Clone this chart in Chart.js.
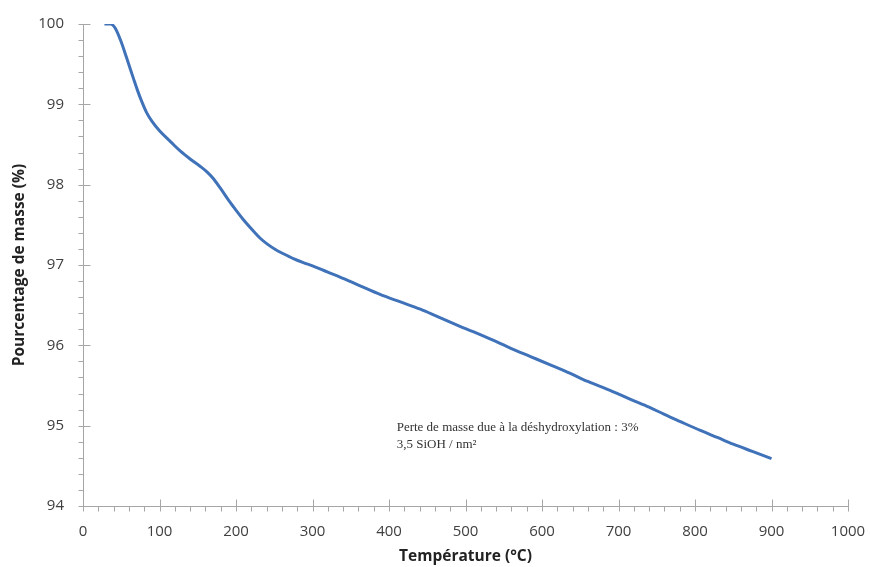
<!DOCTYPE html>
<html>
<head>
<meta charset="utf-8">
<script src="https://cdn.jsdelivr.net/npm/chart.js@4"></script>
<style>
  html, body { margin: 0; padding: 0; background: #fff; }
  #wrap { width: 870px; height: 567px; position: relative; }
</style>
</head>
<body>
<div id="wrap"><canvas id="chartTga"></canvas></div>
<script>
// values
const temperatures = [28, 36, 42, 49, 57, 66, 71, 77, 83, 90, 100, 115, 127, 140, 153, 162, 170, 180, 190, 197,
    210, 223, 232, 241, 252, 262, 275, 288, 300, 320, 336, 360, 389, 415, 441, 465, 492, 510, 532, 560,
    585, 610, 637, 660, 689, 715, 740, 760, 781, 807, 830, 850, 875, 900];
const massPercent = [100, 100, 99.95, 99.80, 99.58, 99.32, 99.18, 99.03, 98.90, 98.79, 98.67, 98.53, 98.42, 98.32, 98.23, 98.16, 98.08, 97.95, 97.81, 97.72,
    97.56, 97.42, 97.33, 97.26, 97.19, 97.14, 97.08, 97.03, 96.99, 96.91, 96.85, 96.75, 96.63, 96.54, 96.45, 96.35, 96.24, 96.17, 96.08, 95.96,
    95.86, 95.76, 95.65, 95.55, 95.44, 95.33, 95.23, 95.14, 95.05, 94.94, 94.85, 94.77, 94.68, 94.59];

const xMin = 0, xMax = 1000, xStep = 100, xMinorStep = 20;
const yMin = 94, yMax = 100, yStep = 1, yMinorStep = 0.2;

const noteLines = ['Perte de masse due à la déshydroxylation : 3%', '3,5 SiOH / nm²'];
const noteAnchor = { x: 410, y: [94.98, 94.76] };

const axisColor = '#a6a6a6';
const textColor = '#404040';

// tick marks like the spreadsheet original: majors cross the axis, minors outside
const tickMarks = {
    id: 'tickMarks',
    afterDraw(chart) {
        const { ctx, scales: { x, y } } = chart;
        ctx.save();
        ctx.strokeStyle = axisColor;
        ctx.lineWidth = 1;
        ctx.beginPath();
        const yAxisX = Math.round(x.getPixelForValue(xMin)) + 0.5;
        const xAxisY = Math.round(y.getPixelForValue(yMin)) + 0.5;
        ctx.moveTo(yAxisX, Math.round(y.getPixelForValue(yMax)));
        ctx.lineTo(yAxisX, xAxisY);
        ctx.lineTo(Math.round(x.getPixelForValue(xMax)) + 0.5, xAxisY);
        for (let v = xMin; v <= xMax + 0.001; v += xMinorStep) {
            const px = Math.round(x.getPixelForValue(v)) + 0.5;
            const major = Math.abs(v / xStep - Math.round(v / xStep)) < 1e-6;
            ctx.moveTo(px, xAxisY - (major ? 7 : 0));
            ctx.lineTo(px, xAxisY + 5);
        }
        for (let v = yMin; v <= yMax + 0.001; v += yMinorStep) {
            const py = Math.round(y.getPixelForValue(v)) + 0.5;
            const major = Math.abs(v / yStep - Math.round(v / yStep)) < 1e-6;
            ctx.moveTo(yAxisX - 5, py);
            ctx.lineTo(yAxisX + (major ? 7 : 0), py);
        }
        ctx.stroke();

        ctx.fillStyle = '#333';
        ctx.font = '13px "Liberation Serif", "DejaVu Serif", serif';
        ctx.textBaseline = 'middle';
        ctx.textAlign = 'left';
        noteLines.forEach((t, i) => {
            ctx.fillText(t, x.getPixelForValue(noteAnchor.x), y.getPixelForValue(noteAnchor.y[i]));
        });
        ctx.restore();
    }
};

Chart.defaults.font.family = '"Open Sans", Lato, sans-serif';
Chart.defaults.color = textColor;

const ctxTga = document.getElementById('chartTga').getContext('2d');
new Chart(ctxTga, {
    type: 'line',
    data: {
        datasets: [{
            label: 'ATG',
            data: temperatures.map((t, i) => ({ x: t, y: massPercent[i] })),
            borderColor: '#3f72b9',
            borderWidth: 3,
            pointRadius: 0,
            cubicInterpolationMode: 'monotone',
            fill: false
        }]
    },
    options: {
        responsive: true, maintainAspectRatio: false,
        animation: false,
        layout: { padding: { top: 24, right: 22, left: 0, bottom: 0 } },
        plugins: { legend: { display: false }, tooltip: { enabled: false } },
        scales: {
            x: {
                type: 'linear', min: xMin, max: xMax,
                border: { display: false },
                grid: { display: false, drawTicks: false },
                ticks: { stepSize: xStep, padding: 17, font: { size: 15 }, color: textColor, maxRotation: 0,
                    callback: (v) => String(v) },
                title: { display: true, text: 'Température (°C)', font: { size: 15.5, weight: 'bold' }, color: '#222', padding: { top: 0, bottom: 0.7 } },
                afterFit: (scale) => { scale.height = 61; scale.paddingLeft = 0; scale.paddingRight = 0; }
            },
            y: {
                min: yMin, max: yMax,
                border: { display: false },
                grid: { display: false, drawTicks: false },
                ticks: { stepSize: yStep, padding: 19, font: { size: 15 }, color: textColor },
                title: { display: true, text: 'Pourcentage de masse (%)', font: { size: 15.5, weight: 'bold' }, color: '#222', padding: { top: 10.5, bottom: 0 } },
                afterFit: (scale) => { scale.width = 83; scale.paddingTop = 0; scale.paddingBottom = 0; }
            }
        }
    },
    plugins: [tickMarks]
});
</script>
</body>
</html>
